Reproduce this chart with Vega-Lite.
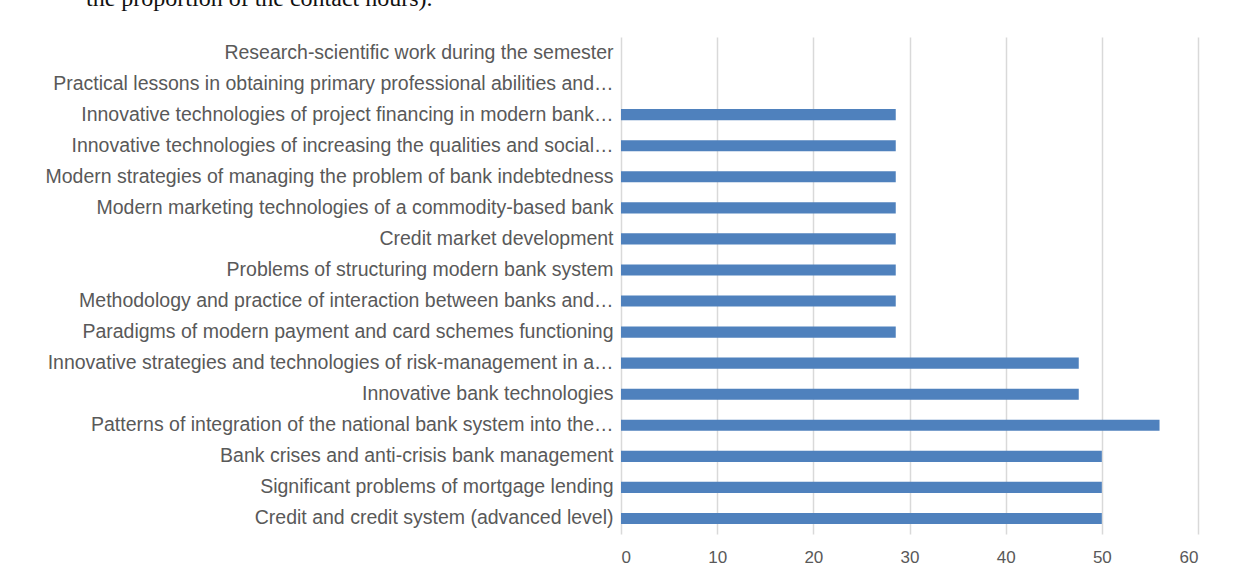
{
  "$schema": "https://vega.github.io/schema/vega-lite/v6.json",
  "autosize": "none",
  "width": 577,
  "height": 497,
  "padding": {"left": 621, "top": 37, "right": 37, "bottom": 46},
  "background": "white",
  "title": {
    "text": "the proportion of the contact hours).",
    "anchor": "start",
    "frame": "group",
    "orient": "top",
    "font": "Liberation Serif",
    "fontSize": 24,
    "fontWeight": "normal",
    "color": "#111111",
    "baseline": "alphabetic",
    "offset": 7,
    "dx": -535
  },
  "data": {
    "values": [
      {"course": "Research-scientific work during the semester\u00a0\u00a0", "value": 0},
      {"course": "Practical lessons in obtaining primary professional abilities and…", "value": 0},
      {"course": "Innovative technologies of project financing in modern bank…", "value": 28.57},
      {"course": "Innovative technologies of increasing the qualities and social…", "value": 28.57},
      {"course": "Modern strategies of managing the problem of bank indebtedness\u00a0\u00a0", "value": 28.57},
      {"course": "Modern marketing technologies of a commodity-based bank\u00a0\u00a0", "value": 28.57},
      {"course": "Credit market development\u00a0\u00a0", "value": 28.57},
      {"course": "Problems of structuring modern bank system\u00a0\u00a0", "value": 28.57},
      {"course": "Methodology and practice of interaction between banks and…", "value": 28.57},
      {"course": "Paradigms of modern payment and card schemes functioning\u00a0\u00a0", "value": 28.57},
      {"course": "Innovative strategies and technologies of risk-management in a…", "value": 47.6},
      {"course": "Innovative bank technologies\u00a0\u00a0", "value": 47.6},
      {"course": "Patterns of integration of the national bank system into the…", "value": 56},
      {"course": "Bank crises and anti-crisis bank management\u00a0\u00a0", "value": 50},
      {"course": "Significant problems of mortgage lending\u00a0\u00a0", "value": 50},
      {"course": "Credit and credit system (advanced level)\u00a0\u00a0", "value": 50}
    ]
  },
  "mark": {"type": "bar", "color": "#4F81BD"},
  "encoding": {
    "y": {
      "field": "course",
      "type": "nominal",
      "sort": null,
      "title": null,
      "scale": {"paddingInner": 0.64, "paddingOuter": 0.32},
      "axis": {
        "domain": false,
        "ticks": false,
        "labelPadding": 8,
        "labelLimit": 700,
        "labelFont": "Liberation Sans",
        "labelFontSize": 19.5,
        "labelColor": "#595959"
      }
    },
    "x": {
      "field": "value",
      "type": "quantitative",
      "title": null,
      "scale": {"domain": [0, 60], "nice": false},
      "axis": {
        "values": [0, 10, 20, 30, 40, 50, 60],
        "domain": false,
        "ticks": false,
        "grid": true,
        "gridColor": "#D9D9D9",
        "gridWidth": 1.5,
        "labelPadding": 15,
        "labelFont": "Liberation Sans",
        "labelFontSize": 17,
        "labelColor": "#595959"
      }
    }
  },
  "config": {"view": {"stroke": null}}
}
